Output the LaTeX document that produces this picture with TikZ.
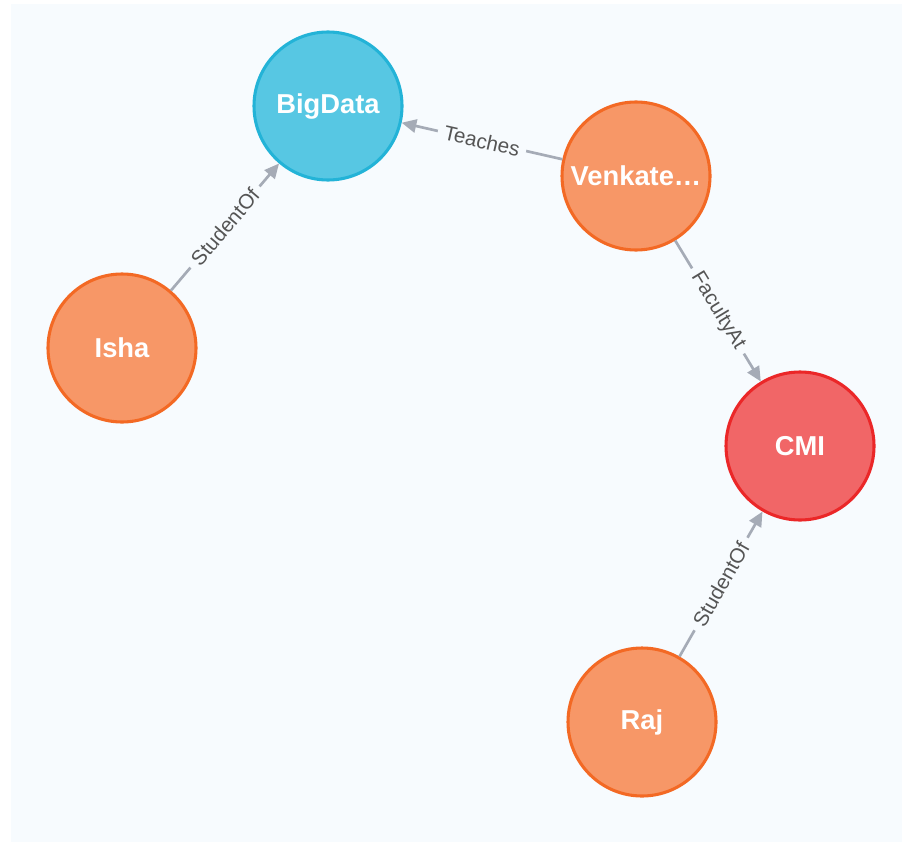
\documentclass[tikz,border=0pt]{standalone}
\usepackage{fontspec}
\setmainfont{Liberation Sans}
\usetikzlibrary{arrows.meta}

\definecolor{bgcol}{HTML}{F7FBFE}
\definecolor{orangefill}{HTML}{F79767}
\definecolor{orangeline}{HTML}{F36924}
\definecolor{bluefill}{HTML}{57C7E3}
\definecolor{blueline}{HTML}{23B3D7}
\definecolor{redfill}{HTML}{F16667}
\definecolor{redline}{HTML}{EB2728}
\definecolor{edgecol}{HTML}{A5ABB6}
\definecolor{labelcol}{HTML}{555555}

\begin{document}
\begin{tikzpicture}[x=0.75pt, y=-0.75pt,
    entity/.style={circle, line width=2.3pt, minimum size=111pt, inner sep=0pt,
                   text=white, font=\fontsize{20.5}{24}\selectfont\bfseries},
    person/.style={entity, draw=orangeline, fill=orangefill},
    course/.style={entity, draw=blueline, fill=bluefill},
    inst/.style={entity, draw=redline, fill=redfill},
    rel/.style={draw=edgecol, line width=2pt, -{Triangle[length=11pt, width=10pt]}},
    rellabel/.style={sloped, fill=bgcol, inner sep=5pt, text=labelcol,
                     font=\fontsize{15.5}{18}\selectfont}]

    % fond
    \useasboundingbox (0,0) rectangle (902,842);
    \fill[bgcol] (11,4) rectangle (902,842);

    % noeuds
    \node[course] (bigdata) at (328, 106) {BigData};
    \node[person] (venk) at (636, 176) {Venkate\ldots};
    \node[person] (isha) at (122, 348) {Isha};
    \node[inst] (cmi) at (800, 446) {CMI};
    \node[person] (raj) at (642, 722) {Raj};

    % relations
    \draw[rel] (venk) -- node[rellabel] {Teaches} (bigdata);
    \draw[rel] (isha) -- node[rellabel] {StudentOf} (bigdata);
    \draw[rel] (venk) -- node[rellabel] {FacultyAt} (cmi);
    \draw[rel] (raj) -- node[rellabel] {StudentOf} (cmi);
\end{tikzpicture}
\end{document}
